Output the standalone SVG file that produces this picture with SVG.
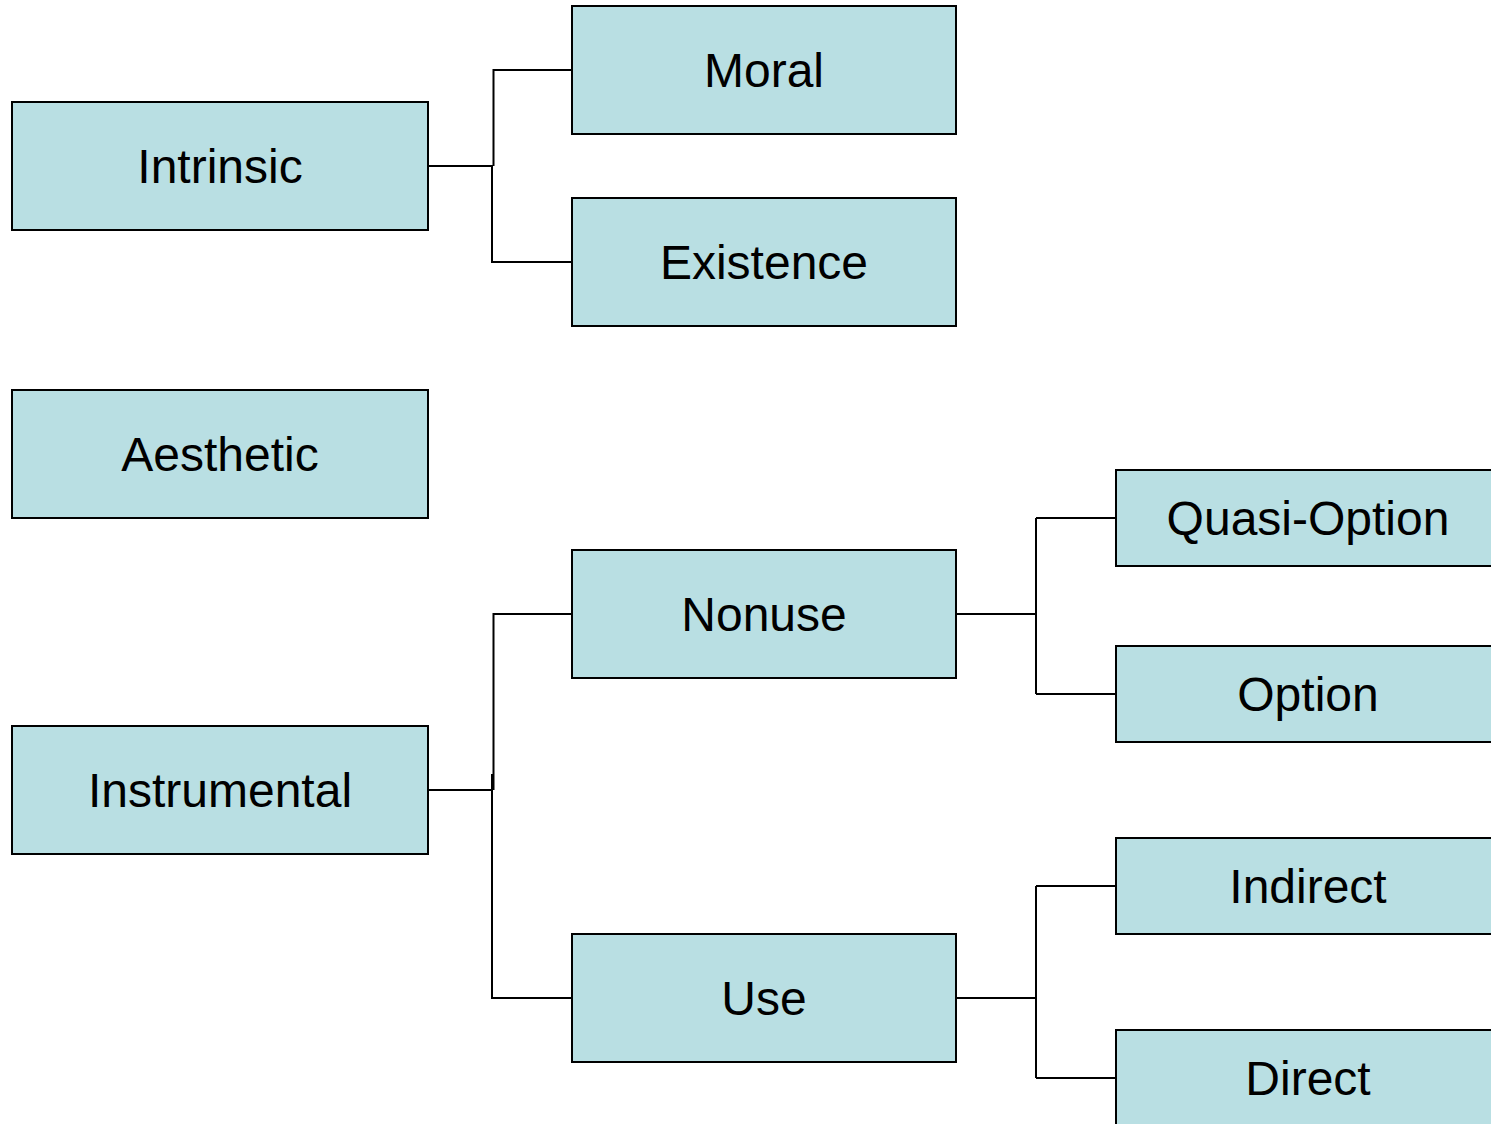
<svg xmlns="http://www.w3.org/2000/svg" width="1491" height="1124" viewBox="0 0 1491 1124">
<style>
.box{fill:#B9DFE3;stroke:#000;stroke-width:2}
.lbl{font-family:"Liberation Sans",Arial,sans-serif;font-size:48px;fill:#000;text-anchor:middle}
.conn{fill:none;stroke:#000;stroke-width:2}
</style>
<rect width="1491" height="1124" fill="#fff"/>
<g id="connectors">
<path class="conn" d="M428,166 H493 M493.5,166 V70 H572 M492,166 V262 H572"/>
<path class="conn" d="M428,790 H493 M493.5,790 V614 H572 M492,790 V998 H572"/>
<path d="M492.5,774 V790" stroke="#000" stroke-width="3"/>
<path class="conn" d="M956,614 H1036 M1036,518 V694 M1036,518 H1116 M1036,694 H1116"/>
<path class="conn" d="M956,998 H1036 M1036,886 V1078 M1036,886 H1116 M1036,1078 H1116"/>
</g>
<g id="intrinsic"><rect class="box" x="12" y="102" width="416" height="128"/><text class="lbl" x="220" y="183">Intrinsic</text></g>
<g id="aesthetic"><rect class="box" x="12" y="390" width="416" height="128"/><text class="lbl" x="220" y="471">Aesthetic</text></g>
<g id="instrumental"><rect class="box" x="12" y="726" width="416" height="128"/><text class="lbl" x="220" y="807">Instrumental</text></g>
<g id="moral"><rect class="box" x="572" y="6" width="384" height="128"/><text class="lbl" x="764" y="87">Moral</text></g>
<g id="existence"><rect class="box" x="572" y="198" width="384" height="128"/><text class="lbl" x="764" y="279">Existence</text></g>
<g id="nonuse"><rect class="box" x="572" y="550" width="384" height="128"/><text class="lbl" x="764" y="631">Nonuse</text></g>
<g id="use"><rect class="box" x="572" y="934" width="384" height="128"/><text class="lbl" x="764" y="1015">Use</text></g>
<g id="quasi-option"><rect class="box" x="1116" y="470" width="384" height="96"/><text class="lbl" x="1308" y="535">Quasi-Option</text></g>
<g id="option"><rect class="box" x="1116" y="646" width="384" height="96"/><text class="lbl" x="1308" y="711">Option</text></g>
<g id="indirect"><rect class="box" x="1116" y="838" width="384" height="96"/><text class="lbl" x="1308" y="903">Indirect</text></g>
<g id="direct"><rect class="box" x="1116" y="1030" width="384" height="96"/><text class="lbl" x="1308" y="1095">Direct</text></g>
</svg>
